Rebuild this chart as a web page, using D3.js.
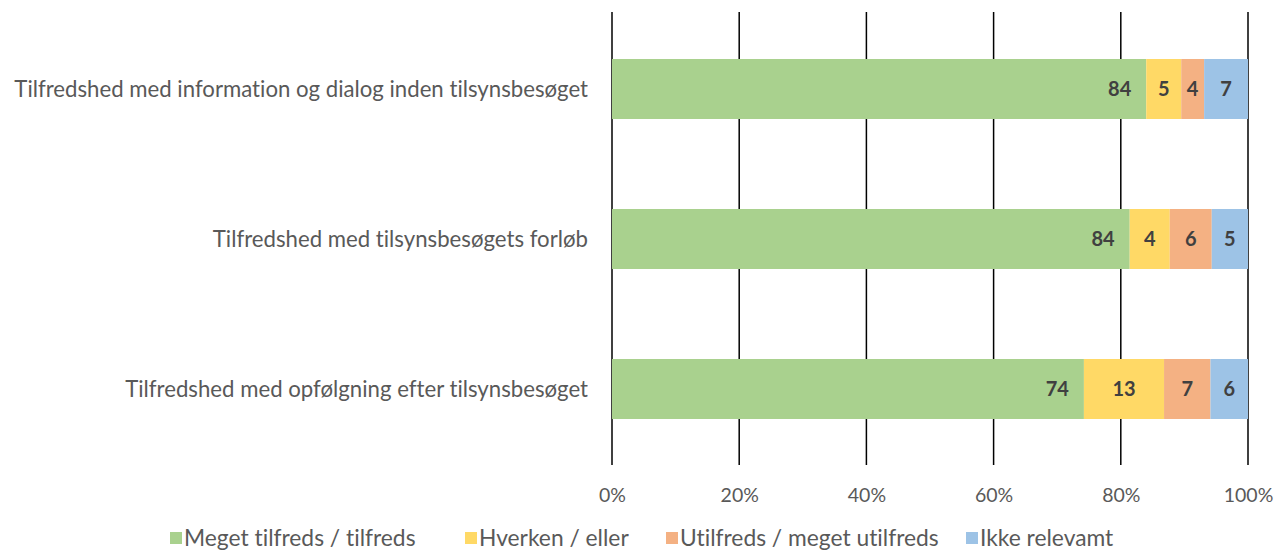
<!DOCTYPE html>
<html>
<head>
<meta charset="utf-8">
<script src="https://cdn.jsdelivr.net/npm/d3@7"></script>
<style>
  body { margin: 0; background: #fff; }
  text { font-family: Lato, sans-serif; font-variant-ligatures: none; font-feature-settings: "liga" 0, "clig" 0; }
</style>
</head>
<body>
<div id="chart"></div>
<script>
const categories = [
    'Tilfredshed med information og dialog inden tilsynsbesøget',
    'Tilfredshed med tilsynsbesøgets forløb ',
    'Tilfredshed med opfølgning efter tilsynsbesøget'
];
const seriesNames = ['Meget tilfreds / tilfreds', 'Hverken / eller', 'Utilfreds / meget utilfreds', 'Ikke relevamt'];
const colors = ['#a9d18e', '#ffd966', '#f4b183', '#9dc3e6'];

// bar shares (%)
const tilfreds = [84.0, 81.4, 74.2];
const hverken = [5.5, 6.3, 12.6];
const utilfreds = [3.6, 6.6, 7.3];
const ikkeRelevant = [6.9, 5.7, 5.9];

// labels printed in the bars
const tilfredsLabels = ['84', '84', '74'];
const hverkenLabels = ['5', '4', '13'];
const utilfredsLabels = ['4', '6', '7'];
const ikkeLabels = ['7', '5', '6'];

const xTicks = [0, 0.2, 0.4, 0.6, 0.8, 1];

let width = 1278,
    height = 550,
    plotLeft = 612,
    plotRight = 1248,
    plotTop = 14,
    plotBottom = 464;

const series = [tilfreds, hverken, utilfreds, ikkeRelevant];
const labels = [tilfredsLabels, hverkenLabels, utilfredsLabels, ikkeLabels];

const rows = categories.map(function(c, i) {
    let row = { cat: c };
    series.forEach(function(s, j) { row[j] = s[i]; });
    return row;
});

const stack = d3.stack().keys([0, 1, 2, 3]).offset(d3.stackOffsetExpand);
const stacked = stack(rows);

let x = d3.scaleLinear().domain([0, 1]).range([plotLeft, plotRight]);
let y = d3.scaleBand().domain(categories).range([plotTop, plotBottom]).paddingInner(0.6).paddingOuter(0.3);

const svg = d3.select('#chart')
    .append('svg')
        .attr('width', width)
        .attr('height', height);

// gridlines
svg.append('g')
    .selectAll('line').data(xTicks)
    .enter().append('line')
        .attr('x1', function(d) { return x(d); })
        .attr('x2', function(d) { return x(d); })
        .attr('y1', 12)
        .attr('y2', 465)
        .style('stroke', '#000')
        .style('stroke-width', 1.5);

// bars
const layers = svg.append('g')
    .selectAll('g').data(stacked)
    .enter().append('g')
        .style('fill', function(d, i) { return colors[i]; });

layers.selectAll('rect')
    .data(function(d) { return d; })
    .enter().append('rect')
        .attr('x', function(d) { return x(d[0]); })
        .attr('y', function(d) { return y(d.data.cat); })
        .attr('width', function(d) { return x(d[1]) - x(d[0]); })
        .attr('height', y.bandwidth());

// value labels
stacked.forEach(function(layer, j) {
    svg.append('g')
        .selectAll('text').data(layer)
        .enter().append('text')
            .attr('x', function(d) {
                if (j === 0) return x(d[1]) - 15;
                return (x(d[0]) + x(d[1])) / 2;
            })
            .attr('y', function(d) { return y(d.data.cat) + y.bandwidth() / 2; })
            .attr('dy', '0.35em')
            .attr('text-anchor', j === 0 ? 'end' : 'middle')
            .attr('font-size', 20)
            .attr('font-weight', 'bold')
            .style('fill', '#404040')
            .text(function(d, i) { return labels[j][i]; });
});

// category labels
svg.append('g')
    .selectAll('text').data(categories)
    .enter().append('text')
        .attr('x', 588)
        .attr('y', function(d) { return y(d) + y.bandwidth() / 2; })
        .attr('dy', '0.35em')
        .attr('text-anchor', 'end')
        .attr('font-size', 22.2)
        .style('fill', '#595959')
        .text(function(d) { return d; });

// x axis
const xAxis = svg.append('g')
    .attr('transform', 'translate(0,' + 495 + ')')
    .call(d3.axisBottom(x).tickValues(xTicks).tickFormat(d3.format('.0%')).tickSize(0));
xAxis.select('.domain').remove();
xAxis.selectAll('text')
    .attr('y', 0)
    .attr('dy', '0.35em')
    .attr('font-size', 19.5)
    .style('font-family', 'Lato, sans-serif')
    .style('fill', '#595959');

// legend
const legendX = [170, 465, 666, 966];
const legend = svg.append('g')
    .selectAll('g').data(seriesNames)
    .enter().append('g')
        .attr('transform', function(d, i) { return 'translate(' + legendX[i] + ',538)'; });
legend.append('rect')
    .attr('x', 0)
    .attr('y', -6)
    .attr('width', 12)
    .attr('height', 12)
    .style('fill', function(d, i) { return colors[i]; });
legend.append('text')
    .attr('x', 14)
    .attr('dy', '0.35em')
    .attr('font-size', 22.8)
    .style('fill', '#595959')
    .text(function(d) { return d; });
</script>
</body>
</html>
